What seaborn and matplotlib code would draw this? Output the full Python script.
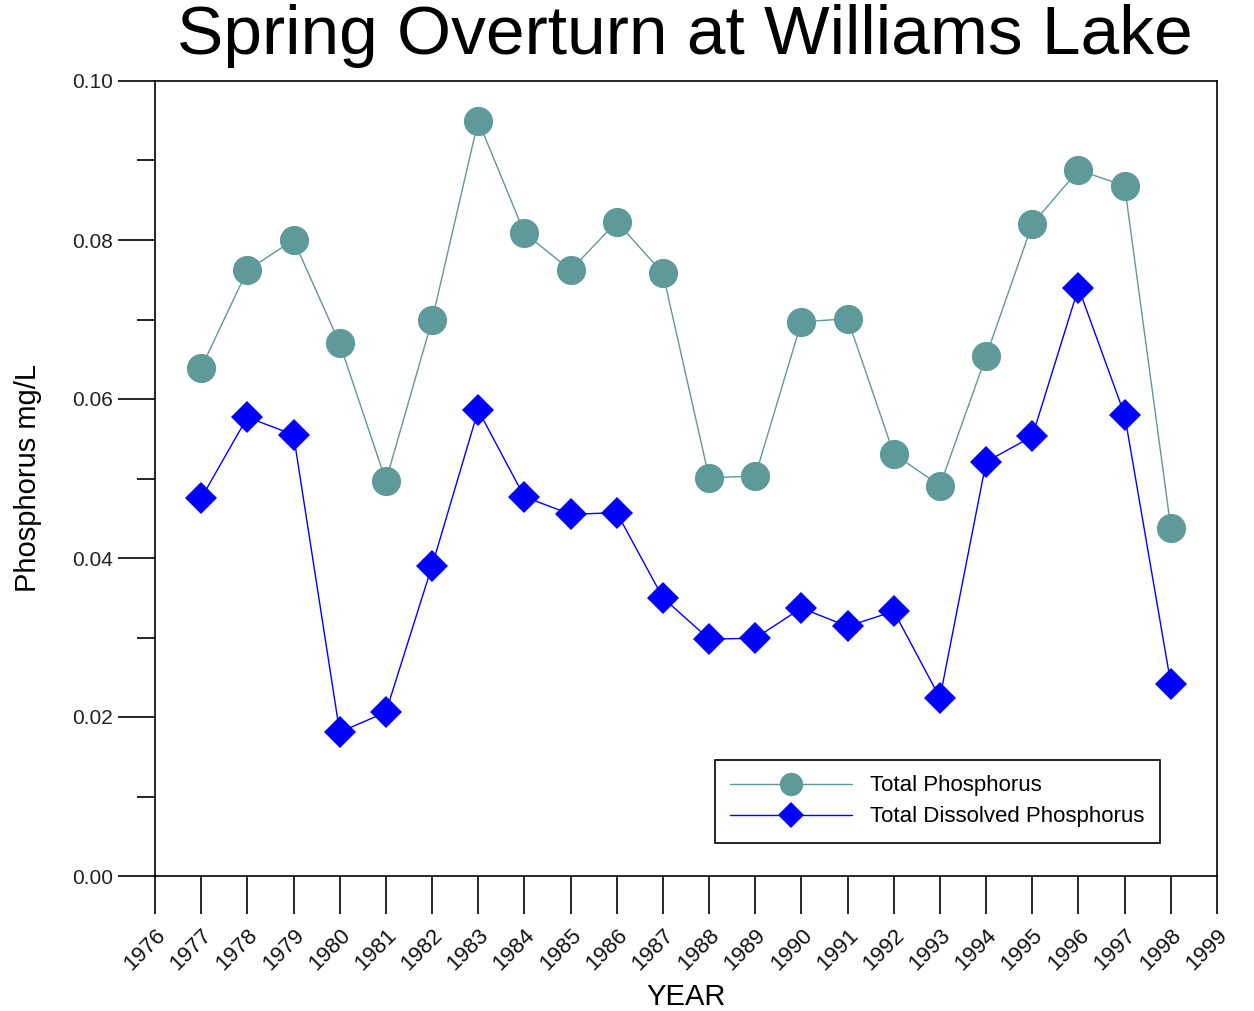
import matplotlib
matplotlib.use("Agg")
import matplotlib.pyplot as plt
import seaborn as sns
import pandas as pd
from matplotlib.ticker import MultipleLocator

years = list(range(1977, 1999))
total_p = [0.0639, 0.0762, 0.0800, 0.0670, 0.0497, 0.0699, 0.0950, 0.0809, 0.0762, 0.0823, 0.0758,
           0.0501, 0.0503, 0.0697, 0.0701, 0.0531, 0.0491, 0.0654, 0.0820, 0.0888, 0.0868, 0.0438]
dissolved_p = [0.0475, 0.0577, 0.0555, 0.0181, 0.0206, 0.0390, 0.0586, 0.0477, 0.0455, 0.0457, 0.0350,
               0.0298, 0.0299, 0.0337, 0.0314, 0.0333, 0.0224, 0.0521, 0.0553, 0.0740, 0.0580, 0.0242]
tick_years = list(range(1976, 2000))

sns.set_style("ticks")
plt.rcParams['font.family'] = ['Liberation Sans', 'DejaVu Sans']
plt.rcParams['text.color'] = 'black'
plt.rcParams['axes.labelcolor'] = 'black'

df = pd.DataFrame({"YEAR": years, "tp": total_p, "tdp": dissolved_p})

fig = plt.figure(figsize=(12.54, 10.11), dpi=100)
ax = fig.add_axes([155/1254, 1 - 876/1011, (1217-155)/1254, (876-81)/1011])

teal = "#5f9a9a"
sns.lineplot(data=df, x="YEAR", y="tp", ax=ax, color=teal, linewidth=1, marker="o",
             markersize=21, markeredgewidth=0, label="Total Phosphorus")
sns.lineplot(data=df, x="YEAR", y="tdp", ax=ax, color="#0000ff", linewidth=1, marker="D",
             markersize=16, markeredgewidth=0, label="Total Dissolved Phosphorus")

ax.set_xlim(1976, 1999)
ax.set_ylim(0, 0.10)
ax.set_xticks(tick_years)
ax.set_xticklabels([str(y) for y in tick_years], rotation=45, ha="right", rotation_mode="anchor",
                   fontsize=16, color="#111111")
ax.yaxis.set_minor_locator(MultipleLocator(0.01))
ax.set_yticks([0, 0.02, 0.04, 0.06, 0.08, 0.10])
ax.set_yticklabels(["0.00", "0.02", "0.04", "0.06", "0.08", "0.10"], fontsize=15, color="#222222")
ax.tick_params(axis="both", which="major", length=27, width=1.2, color="black", direction="out", pad=8)
ax.tick_params(axis="y", which="major", pad=3)
ax.tick_params(axis="y", which="minor", length=13, width=1.2, color="black", direction="out")
for s in ax.spines.values():
    s.set_visible(True)
    s.set_linewidth(1.2)
    s.set_color("black")

ax.set_xlabel("YEAR", fontsize=21, labelpad=6)
ax.set_ylabel("Phosphorus mg/L", fontsize=21, labelpad=22)
fig.text((175+1195)/2/1254, 1 - 4/1011, "Spring Overturn at Williams Lake", fontsize=50,
         ha="center", va="top", color="black")

leg = ax.legend(loc="lower right", bbox_to_anchor=((1160-155)/1062, (876-843)/795), fontsize=16,
                frameon=True, fancybox=False, edgecolor="black", framealpha=1, borderpad=0.7,
                handlelength=5.5, labelspacing=0.45, markerscale=0.8, handletextpad=0.8,
                borderaxespad=0)
leg.get_frame().set_linewidth(1.2)

fig.savefig("out.png", dpi=100)
